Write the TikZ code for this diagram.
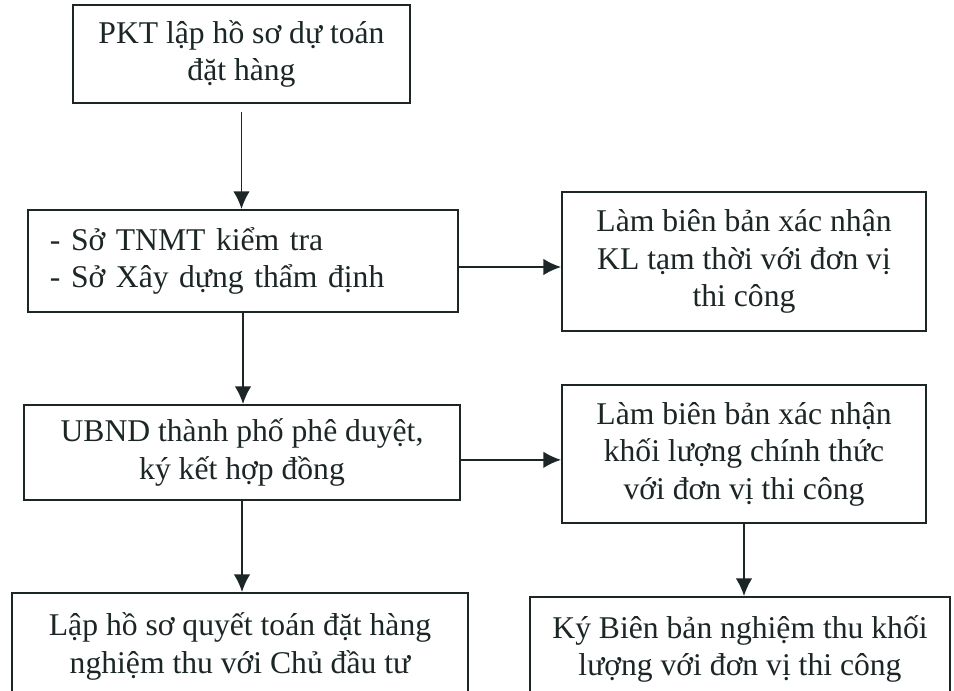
\documentclass[tikz,border=0pt]{standalone}
\usepackage{fontspec}
\setmainfont{Liberation Serif}
\usetikzlibrary{arrows.meta}

\definecolor{inkline}{rgb}{0.11,0.15,0.15}

\begin{document}
\begin{tikzpicture}[
  x=0.03cm, y=-0.03cm,
  box/.style={draw=inkline, line width=1.6pt, align=center, text=inkline,
    font=\fontsize{27}{32}\selectfont, inner sep=0pt},
  leftbox/.style={box, align=left, inner xsep=0.66cm},
  flow/.style={-{Latex[length=15pt,width=14pt]}, draw=inkline, line width=1.6pt}
  ]
  \clip (0,0) rectangle (954,690);
  \fill[white] (0,0) rectangle (954,690);

  \node[box, minimum width=10.11cm, minimum height=2.94cm] (NDraft) at (241.5,54)
    {PKT lập hồ sơ dự toán\\đặt hàng};
  \node[leftbox, text width=11.58cm, minimum height=3.06cm] (NReview) at (243,261)
    {- Sở TNMT kiểm tra\\- Sở Xây dựng thẩm định};
  \node[box, minimum width=10.92cm, minimum height=4.17cm] (NTempKL) at (744,261.5)
    {Làm biên bản xác nhận\\KL tạm thời với đơn vị\\thi công};
  \node[box, minimum width=13.08cm, minimum height=2.85cm] (NApprove) at (242,452.5)
    {UBND thành phố phê duyệt,\\ký kết hợp đồng};
  \node[box, minimum width=10.92cm, minimum height=4.14cm] (NOfficialKL) at (744,454)
    {Làm biên bản xác nhận\\khối lượng chính thức\\với đơn vị thi công};
  \node[box, minimum width=13.68cm, minimum height=3.21cm] (NSettle) at (240,646.5)
    {Lập hồ sơ quyết toán đặt hàng\\nghiệm thu với Chủ đầu tư};
  \node[box, minimum width=12.6cm, minimum height=3.12cm] (NSign) at (740,649)
    {Ký Biên bản nghiệm thu khối\\lượng với đơn vị thi công};

  \path[every edge/.append style={flow}]
  (NDraft.south)                  edge[shorten <=0.24cm] (NDraft.south |- NReview.north)
  (NReview.south)                 edge                   (NReview.south |- NApprove.north)
  ([yshift=-0.18cm]NReview.east)  edge                   ([yshift=-0.18cm]NReview.east -| NTempKL.west)
  ([yshift=-0.22cm]NApprove.east) edge                   ([yshift=-0.22cm]NApprove.east -| NOfficialKL.west)
  (NApprove.south)                edge                   (NApprove.south |- NSettle.north)
  (NOfficialKL.south)             edge                   (NOfficialKL.south |- NSign.north)
  ;
\end{tikzpicture}
\end{document}
